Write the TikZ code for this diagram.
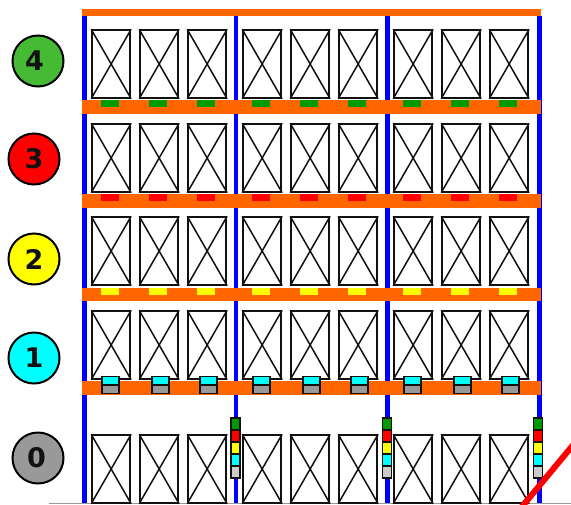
\documentclass[tikz,border=0pt]{standalone}
\usepackage{fontspec}
\setsansfont{DejaVu Sans}
\definecolor{beam}{HTML}{FF6600}
\definecolor{post}{HTML}{0000FF}
\definecolor{lvlzero}{HTML}{999999}
\definecolor{lvlone}{HTML}{00FFFF}
\definecolor{lvltwo}{HTML}{FFFF00}
\definecolor{lvlthree}{HTML}{FF0000}
\definecolor{lvlfour}{HTML}{44BB33}
\definecolor{markgreen}{HTML}{009900}
\definecolor{lampgray}{HTML}{CCCCCC}
\definecolor{ink}{HTML}{111111}
\tikzset{
  x=1pt, y=-1pt,
  rkbeam/.style  = {fill=beam},
  rkpost/.style  = {fill=post},
  rkbox/.style   = {draw=ink, line width=1.9pt, fill=white, inner sep=0pt, anchor=north west,
                    minimum width=38pt, minimum height=67.5pt},
  rkcross/.style = {draw=ink, line width=1.5pt},
  rkmark/.style  = {inner sep=0pt, anchor=north west, minimum width=18pt, minimum height=7pt},
  rktray/.style  = {draw=ink, line width=1.6pt, inner sep=0pt, anchor=north west,
                    minimum width=17pt, minimum height=8.5pt},
  rklamp/.style  = {draw=ink, line width=1.5pt, inner sep=0pt, minimum width=9pt, minimum height=12pt},
  rklevel/.style = {circle, draw=black, line width=2pt, inner sep=0pt, minimum size=51pt,
                    font=\sffamily\bfseries\fontsize{27}{27}\selectfont, text=ink},
  rkfloor/.style = {draw=lvlzero, line width=1.2pt},
  rkslash/.style = {draw=lvlthree, line width=6pt},
}
\begin{document}
\begin{tikzpicture}
\useasboundingbox (0,0) rectangle (571,504);

% uprights and beams
\foreach \px in {82,233.5,385,537}
  \fill[rkpost] (\px,16) rectangle ++(4.5,487);
\fill[rkbeam] (82,9) rectangle (541,16);
\foreach \by/\bh in {100/14,194/14,288/13,381/14}
  \fill[rkbeam] (82,\by) rectangle (541,\by+\bh);

% floor
\coordinate (floorl) at (49,503.5);
\coordinate (floorr) at (571,503.5);
\draw[rkfloor] (floorl) -- (floorr);

% pallets
\foreach \lv/\ty in {4/29.3,3/123.3,2/216.3,1/310.3,0/434.3}
  \foreach \bay/\bx in {1/91.2,2/242.2,3/393.2}
    \foreach \i in {0,1,2} {
      \node[rkbox] (b\lv\bay\i) at ({\bx+48*\i},\ty) {};
      \draw[rkcross] (b\lv\bay\i.north west) -- (b\lv\bay\i.south east);
      \draw[rkcross] (b\lv\bay\i.north east) -- (b\lv\bay\i.south west);
    }

% beam markers
\foreach \lv/\my/\mc in {4/100/markgreen,3/194/lvlthree,2/288/lvltwo}
  \foreach \bx in {92,243,394}
    \foreach \i in {0,1,2}
      \node[rkmark, fill=\mc] (m\lv\bx\i) at ({\bx+9+48*\i},\my) {};

% trays on level one
\foreach \bx in {92,243,394}
  \foreach \i/\off in {0/9,1/11,2/11} {
    \node[rktray, fill=lvlone] (tu\bx\i) at ({\bx+\off+48*\i},375.5) {};
    \node[rktray, fill=lvlzero] (tl\bx\i) at ({\bx+\off+48*\i},384) {};
  }

% signal towers
\foreach \tx/\tn in {235.5/a,387/b,538/c}
  \foreach \c [count=\n] in {markgreen,lvlthree,lvltwo,lvlone,lampgray}
    \node[rklamp, fill=\c] (lamp\tn\n) at (\tx,{412+12*\n}) {};

% level badges
\node[rklevel, fill=lvlfour]  (lv4) at (38,61)    {4\hspace*{7pt}};
\node[rklevel, fill=lvlthree] (lv3) at (34,159)   {3};
\node[rklevel, fill=lvltwo]   (lv2) at (34,259)   {2};
\node[rklevel, fill=lvlone]   (lv1) at (34,358)   {1};
\node[rklevel, fill=lvlzero]  (lv0) at (38,458)   {0\hspace*{3pt}};

% red diagonal
\coordinate (slasha) at (575,442.7);
\coordinate (slashb) at (520,509);
\draw[rkslash] (slasha) -- (slashb);
\end{tikzpicture}
\end{document}
